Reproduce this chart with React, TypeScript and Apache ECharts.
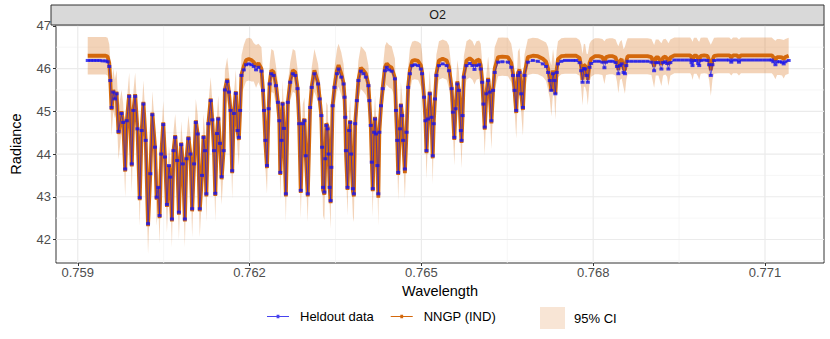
import React, { useEffect, useRef } from "react";
import * as echarts from "echarts";

const wavelength = [
  0.759174, 0.759226, 0.759278, 0.759330, 0.759382, 0.759434, 0.759486, 0.759521, 0.759550, 0.759568,
  0.759590, 0.759620, 0.759648, 0.759677, 0.759712, 0.759764, 0.759793, 0.759828, 0.759856, 0.759898,
  0.759943, 0.759972, 0.760002, 0.760042, 0.760082, 0.760116, 0.760146, 0.760186, 0.760227, 0.760267,
  0.760302, 0.760349, 0.760377, 0.760406, 0.760429, 0.760458, 0.760493, 0.760523, 0.760557, 0.760592,
  0.760615, 0.760644, 0.760672, 0.760701, 0.760736, 0.760766, 0.760806, 0.760835, 0.760870, 0.760898,
  0.760932, 0.760967, 0.760997, 0.761031, 0.761061, 0.761095, 0.761130, 0.761170, 0.761196, 0.761222,
  0.761245, 0.761280, 0.761321, 0.761349, 0.761378, 0.761401, 0.761431, 0.761453, 0.761483, 0.761512,
  0.761547, 0.761569, 0.761609, 0.761639, 0.761668, 0.761696, 0.761726, 0.761760, 0.761790, 0.761813,
  0.761835, 0.761859, 0.761899, 0.761939, 0.761986, 0.762033, 0.762073, 0.762113, 0.762155, 0.762207,
  0.762234, 0.762252, 0.762276, 0.762304, 0.762333, 0.762351, 0.762380, 0.762420, 0.762460, 0.762495,
  0.762519, 0.762536, 0.762559, 0.762576, 0.762599, 0.762634, 0.762668, 0.762710, 0.762755, 0.762797,
  0.762837, 0.762866, 0.762894, 0.762929, 0.762958, 0.762981, 0.763016, 0.763057, 0.763085, 0.763132,
  0.763196, 0.763224, 0.763253, 0.763266, 0.763283, 0.763306, 0.763323, 0.763340, 0.763363, 0.763380,
  0.763398, 0.763415, 0.763427, 0.763450, 0.763484, 0.763526, 0.763554, 0.763601, 0.763641, 0.763658,
  0.763670, 0.763682, 0.763710, 0.763740, 0.763757, 0.763774, 0.763804, 0.763821, 0.763844, 0.763873,
  0.763901, 0.763943, 0.763988, 0.764030, 0.764075, 0.764092, 0.764116, 0.764134, 0.764151, 0.764174,
  0.764191, 0.764208, 0.764231, 0.764248, 0.764266, 0.764295, 0.764325, 0.764365, 0.764394, 0.764434,
  0.764481, 0.764538, 0.764556, 0.764578, 0.764595, 0.764625, 0.764642, 0.764665, 0.764682, 0.764712,
  0.764741, 0.764769, 0.764799, 0.764839, 0.764885, 0.764943, 0.764990, 0.765012, 0.765047, 0.765071,
  0.765089, 0.765116, 0.765146, 0.765175, 0.765198, 0.765215, 0.765238, 0.765262, 0.765307, 0.765372,
  0.765441, 0.765481, 0.765528, 0.765550, 0.765575, 0.765597, 0.765627, 0.765655, 0.765689, 0.765701,
  0.765719, 0.765741, 0.765788, 0.765845, 0.765892, 0.765927, 0.765962, 0.766009, 0.766036, 0.766061,
  0.766083, 0.766106, 0.766135, 0.766165, 0.766193, 0.766222, 0.766252, 0.766280, 0.766339, 0.766413,
  0.766512, 0.766569, 0.766599, 0.766627, 0.766656, 0.766686, 0.766714, 0.766743, 0.766773, 0.766800,
  0.766859, 0.766946, 0.767033, 0.767120, 0.767177, 0.767212, 0.767241, 0.767269, 0.767299, 0.767321,
  0.767339, 0.767363, 0.767385, 0.767443, 0.767507, 0.767576, 0.767646, 0.767703, 0.767762, 0.767790,
  0.767814, 0.767837, 0.767859, 0.767884, 0.767906, 0.767936, 0.767964, 0.768028, 0.768097, 0.768161,
  0.768196, 0.768224, 0.768283, 0.768340, 0.768392, 0.768415, 0.768439, 0.768467, 0.768497, 0.768531,
  0.768554, 0.768578, 0.768601, 0.768670, 0.768740, 0.768809, 0.768878, 0.768948, 0.769017, 0.769064,
  0.769092, 0.769139, 0.769191, 0.769220, 0.769260, 0.769290, 0.769313, 0.769347, 0.769417, 0.769486,
  0.769556, 0.769625, 0.769694, 0.769717, 0.769734, 0.769759, 0.769804, 0.769833, 0.769851, 0.769877,
  0.769938, 0.769995, 0.770024, 0.770054, 0.770082, 0.770111, 0.770181, 0.770250, 0.770319, 0.770377,
  0.770411, 0.770441, 0.770510, 0.770545, 0.770580, 0.770649, 0.770719, 0.770788, 0.770858, 0.770927,
  0.770997, 0.771066, 0.771118, 0.771144, 0.771182, 0.771210, 0.771257, 0.771297, 0.771326, 0.771356, 0.771413,
];

const heldout = [
  46.19, 46.19, 46.19, 46.19, 46.19, 46.18, 46.18, 46.16, 46.05, 45.72,
  45.09, 45.45, 45.29, 45.41, 44.53, 44.95, 44.74, 43.65, 44.78, 45.35,
  43.77, 45.02, 45.35, 44.59, 42.98, 44.55, 45.17, 44.32, 42.37, 43.54,
  44.92, 44.16, 42.99, 43.22, 42.56, 44.00, 44.69, 43.93, 42.82, 43.73,
  43.46, 42.48, 44.08, 44.39, 43.85, 42.64, 44.22, 43.77, 42.48, 43.89,
  44.36, 44.00, 42.72, 43.77, 44.74, 44.47, 42.72, 43.50, 44.39, 44.08,
  43.07, 44.71, 45.25, 44.80, 44.08, 43.08, 44.48, 44.82, 44.25, 43.47,
  44.08, 45.50, 45.70, 45.45, 45.02, 43.61, 44.95, 45.42, 44.55, 44.39,
  45.02, 45.84, 45.97, 46.09, 46.11, 46.09, 46.05, 45.97, 46.03, 45.94,
  45.49, 45.02, 44.32, 43.73, 45.06, 45.64, 45.88, 45.84, 45.60, 45.21,
  44.78, 43.57, 44.32, 45.17, 44.60, 43.07, 45.21, 45.68, 45.88, 45.84,
  45.53, 44.71, 43.15, 44.71, 44.78, 43.96, 43.07, 45.09, 45.56, 45.88,
  45.64, 45.29, 44.90, 44.16, 43.22, 43.11, 43.89, 44.67, 44.59, 44.00,
  43.22, 42.91, 43.69, 45.13, 45.56, 45.88, 45.99, 45.80, 45.64, 45.33,
  44.86, 44.08, 43.22, 44.55, 44.74, 44.00, 43.19, 43.07, 44.71, 45.25,
  45.72, 45.94, 45.88, 45.80, 45.60, 45.25, 44.67, 43.81, 43.19, 44.51,
  44.82, 44.47, 43.73, 43.07, 44.51, 45.13, 45.53, 45.95, 46.03, 45.97,
  45.94, 45.76, 45.02, 44.32, 43.57, 44.59, 45.13, 44.90, 44.32, 43.65,
  44.51, 45.56, 45.88, 46.07, 46.09, 46.07, 45.99, 45.88, 45.33, 44.78,
  44.08, 44.82, 45.41, 44.86, 43.96, 44.71, 45.29, 45.84, 46.07, 46.11,
  46.07, 45.95, 45.53, 44.98, 44.39, 45.06, 45.64, 45.49, 44.55, 44.32,
  44.90, 45.80, 46.07, 46.12, 46.07, 45.98, 46.07, 46.09, 45.99, 45.68,
  45.17, 44.63, 45.41, 45.72, 45.45, 44.78, 45.49, 45.91, 46.15, 46.16,
  46.15, 46.03, 45.84, 45.49, 45.02, 45.84, 45.91, 45.41, 45.09, 45.84,
  46.15, 46.19, 46.17, 46.11, 46.05, 45.91, 45.72, 45.49, 45.88, 45.72,
  45.41, 45.91, 46.11, 46.17, 46.19, 46.19, 46.19, 46.19, 46.14, 45.95,
  45.68, 46.00, 45.99, 45.84, 45.68, 46.03, 46.12, 46.17, 46.17, 46.15,
  46.02, 46.15, 46.17, 46.17, 46.14, 46.05, 45.88, 46.07, 46.11, 45.91,
  45.88, 46.07, 46.17, 46.17, 46.17, 46.17, 46.17, 46.17, 46.15, 45.95,
  46.14, 46.14, 45.99, 46.14, 46.16, 46.12, 45.99, 46.14, 46.20, 46.20,
  46.20, 46.20, 46.20, 46.14, 46.07, 46.19, 46.19, 46.12, 46.07, 46.19,
  46.20, 46.19, 46.09, 45.84, 46.09, 46.19, 46.20, 46.20, 46.20, 46.20,
  46.15, 46.20, 46.20, 46.15, 46.20, 46.20, 46.20, 46.20, 46.20, 46.20,
  46.20, 46.20, 46.20, 46.16, 46.09, 46.16, 46.16, 46.15, 46.11, 46.16, 46.19,
];

const nngp = [
  46.30, 46.30, 46.30, 46.30, 46.30, 46.30, 46.30, 46.28, 46.13, 45.74,
  45.03, 45.50, 45.29, 45.46, 44.47, 45.00, 44.74, 43.59, 44.78, 45.40,
  43.71, 45.02, 45.40, 44.59, 42.92, 44.55, 45.22, 44.32, 42.31, 43.54,
  44.97, 44.16, 42.93, 43.22, 42.50, 44.00, 44.74, 43.93, 42.76, 43.73,
  43.46, 42.42, 44.08, 44.44, 43.85, 42.58, 44.27, 43.77, 42.42, 43.89,
  44.41, 44.00, 42.66, 43.77, 44.79, 44.47, 42.66, 43.50, 44.44, 44.08,
  43.01, 44.71, 45.30, 44.80, 44.08, 43.02, 44.48, 44.87, 44.25, 43.41,
  44.08, 45.50, 45.76, 45.45, 45.02, 43.55, 44.95, 45.47, 44.55, 44.33,
  45.02, 45.86, 46.05, 46.20, 46.22, 46.20, 46.15, 46.05, 46.13, 46.00,
  45.49, 45.02, 44.26, 43.67, 45.06, 45.66, 45.96, 45.92, 45.62, 45.21,
  44.78, 43.51, 44.32, 45.22, 44.60, 43.01, 45.21, 45.70, 45.96, 45.92,
  45.55, 44.71, 43.09, 44.71, 44.83, 43.96, 43.01, 45.09, 45.58, 45.96,
  45.66, 45.29, 44.90, 44.16, 43.16, 43.05, 43.89, 44.72, 44.64, 44.00,
  43.22, 42.85, 43.69, 45.13, 45.58, 45.96, 46.08, 45.88, 45.66, 45.33,
  44.86, 44.08, 43.16, 44.55, 44.79, 44.00, 43.13, 43.01, 44.71, 45.25,
  45.74, 46.02, 45.96, 45.88, 45.62, 45.25, 44.67, 43.81, 43.13, 44.51,
  44.87, 44.47, 43.73, 42.98, 44.51, 45.13, 45.55, 46.03, 46.12, 46.06,
  46.02, 45.78, 45.02, 44.32, 43.51, 44.59, 45.18, 44.90, 44.32, 43.55,
  44.51, 45.58, 45.97, 46.18, 46.20, 46.18, 46.08, 45.92, 45.33, 44.78,
  44.02, 44.82, 45.46, 44.86, 43.90, 44.71, 45.29, 45.88, 46.19, 46.23,
  46.19, 46.04, 45.55, 44.98, 44.33, 45.06, 45.70, 45.49, 44.55, 44.26,
  44.90, 45.84, 46.19, 46.24, 46.19, 46.08, 46.19, 46.21, 46.08, 45.72,
  45.17, 44.57, 45.41, 45.78, 45.45, 44.72, 45.49, 46.00, 46.27, 46.28,
  46.27, 46.13, 45.88, 45.49, 44.96, 45.90, 45.98, 45.41, 45.03, 45.88,
  46.27, 46.30, 46.29, 46.23, 46.16, 46.00, 45.76, 45.48, 45.96, 45.76,
  45.40, 45.98, 46.22, 46.29, 46.30, 46.30, 46.30, 46.30, 46.25, 46.05,
  45.74, 46.08, 46.07, 45.90, 45.74, 46.13, 46.23, 46.29, 46.29, 46.27,
  46.14, 46.27, 46.29, 46.29, 46.26, 46.14, 45.97, 46.18, 46.22, 46.00,
  45.96, 46.18, 46.29, 46.29, 46.29, 46.29, 46.29, 46.29, 46.27, 46.05,
  46.26, 46.26, 46.09, 46.26, 46.28, 46.23, 46.09, 46.26, 46.31, 46.31,
  46.31, 46.31, 46.31, 46.26, 46.18, 46.30, 46.30, 46.23, 46.18, 46.30,
  46.31, 46.30, 46.19, 45.96, 46.19, 46.30, 46.31, 46.31, 46.31, 46.31,
  46.26, 46.31, 46.31, 46.26, 46.31, 46.31, 46.31, 46.31, 46.31, 46.31,
  46.31, 46.31, 46.31, 46.27, 46.20, 46.27, 46.27, 46.26, 46.22, 46.27, 46.30,
];

const ciHalf = [
  0.44, 0.44, 0.44, 0.44, 0.44, 0.44, 0.44, 0.44, 0.44, 0.45,
  0.6, 0.5, 0.45, 0.5, 0.6, 0.5, 0.45, 0.6, 0.45, 0.5,
  0.6, 0.45, 0.5, 0.45, 0.6, 0.45, 0.5, 0.45, 0.65, 0.45,
  0.5, 0.45, 0.6, 0.45, 0.6, 0.45, 0.5, 0.45, 0.6, 0.45,
  0.45, 0.6, 0.45, 0.5, 0.45, 0.6, 0.5, 0.45, 0.6, 0.45,
  0.5, 0.45, 0.6, 0.45, 0.5, 0.45, 0.6, 0.45, 0.5, 0.45,
  0.6, 0.45, 0.5, 0.45, 0.45, 0.6, 0.45, 0.5, 0.45, 0.6,
  0.45, 0.45, 0.5, 0.45, 0.45, 0.6, 0.45, 0.5, 0.45, 0.6,
  0.45, 0.45, 0.5, 0.5, 0.5, 0.5, 0.45, 0.5, 0.45, 0.5,
  0.45, 0.45, 0.6, 0.6, 0.45, 0.45, 0.5, 0.5, 0.45, 0.45,
  0.45, 0.6, 0.45, 0.5, 0.45, 0.6, 0.45, 0.45, 0.5, 0.5,
  0.45, 0.45, 0.6, 0.45, 0.5, 0.45, 0.6, 0.45, 0.45, 0.5,
  0.45, 0.45, 0.45, 0.45, 0.6, 0.6, 0.45, 0.5, 0.5, 0.45,
  0.45, 0.6, 0.45, 0.45, 0.45, 0.5, 0.5, 0.5, 0.45, 0.45,
  0.45, 0.45, 0.6, 0.45, 0.5, 0.45, 0.6, 0.6, 0.45, 0.45,
  0.45, 0.5, 0.5, 0.5, 0.45, 0.45, 0.45, 0.45, 0.6, 0.45,
  0.5, 0.45, 0.45, 0.65, 0.45, 0.45, 0.45, 0.5, 0.5, 0.5,
  0.5, 0.45, 0.45, 0.45, 0.6, 0.45, 0.5, 0.45, 0.45, 0.6,
  0.45, 0.45, 0.5, 0.45, 0.45, 0.45, 0.5, 0.45, 0.45, 0.45,
  0.6, 0.45, 0.5, 0.45, 0.6, 0.45, 0.45, 0.45, 0.45, 0.45,
  0.45, 0.5, 0.45, 0.45, 0.6, 0.45, 0.5, 0.45, 0.45, 0.6,
  0.45, 0.45, 0.45, 0.45, 0.45, 0.45, 0.45, 0.45, 0.5, 0.45,
  0.45, 0.6, 0.45, 0.5, 0.45, 0.6, 0.45, 0.5, 0.45, 0.45,
  0.45, 0.45, 0.45, 0.45, 0.6, 0.5, 0.5, 0.45, 0.6, 0.45,
  0.42, 0.42, 0.42, 0.42, 0.45, 0.5, 0.45, 0.6, 0.5, 0.45,
  0.6, 0.45, 0.42, 0.42, 0.42, 0.42, 0.42, 0.42, 0.42, 0.5,
  0.6, 0.5, 0.5, 0.45, 0.6, 0.45, 0.42, 0.42, 0.42, 0.42,
  0.5, 0.42, 0.42, 0.42, 0.42, 0.45, 0.55, 0.45, 0.45, 0.45,
  0.55, 0.45, 0.42, 0.42, 0.42, 0.42, 0.42, 0.42, 0.42, 0.5,
  0.42, 0.42, 0.5, 0.42, 0.42, 0.42, 0.5, 0.42, 0.42, 0.42,
  0.42, 0.42, 0.42, 0.42, 0.45, 0.42, 0.42, 0.42, 0.45, 0.42,
  0.42, 0.42, 0.45, 0.6, 0.45, 0.42, 0.42, 0.42, 0.42, 0.42,
  0.42, 0.42, 0.42, 0.42, 0.42, 0.42, 0.42, 0.42, 0.42, 0.42,
  0.42, 0.42, 0.42, 0.42, 0.45, 0.42, 0.42, 0.42, 0.45, 0.42, 0.42,
];

const xTicks = [0.759, 0.762, 0.765, 0.768, 0.771];
const xMinor = [0.7605, 0.7635, 0.7665, 0.7695];
const yTicks = [42, 43, 44, 45, 46, 47];
const yMinor = [41.5, 42.5, 43.5, 44.5, 45.5, 46.5];

const X_MIN = 0.75862;
const X_MAX = 0.77203;
const Y_MIN = 41.45;
const Y_MAX = 47.02;

const FONT = "'Liberation Sans', Arial, Helvetica, sans-serif";
const LINE_DOT_ICON = "path://M0,2.4 H22 V3.6 H0 Z M9.6,1.2 H12.4 V4.8 H9.6 Z";

export default function App() {
  const ref = useRef<HTMLDivElement>(null);

  useEffect(() => {
    document.body.style.margin = "0";
    document.body.style.overflow = "hidden";
    const chart = echarts.init(ref.current!, null, { renderer: "svg" });
    const n = Math.min(wavelength.length, heldout.length, nngp.length, ciHalf.length);
    const idx = Array.from({ length: n }, (_, i) => i);

    const ribbonColor = "rgba(215,110,20,0.3)";
    const orange = "#D4680C";
    const blue = "rgba(25,20,235,0.8)";

    const axisLabelStyle = { color: "#4D4D4D", fontSize: 13, fontFamily: FONT };

    const gridRender = (params: any, api: any) => {
      if (params.dataIndex !== 0) return null;
      const children: any[] = [];
      const vLine = (v: number, color: string, w: number) => {
        const a = api.coord([v, Y_MIN]);
        const b = api.coord([v, Y_MAX]);
        children.push({
          type: "line",
          shape: { x1: a[0], y1: a[1], x2: b[0], y2: b[1] },
          style: { stroke: color, lineWidth: w },
        });
      };
      const hLine = (v: number, color: string, w: number) => {
        const a = api.coord([X_MIN, v]);
        const b = api.coord([X_MAX, v]);
        children.push({
          type: "line",
          shape: { x1: a[0], y1: a[1], x2: b[0], y2: b[1] },
          style: { stroke: color, lineWidth: w },
        });
      };
      xMinor.forEach((v) => vLine(v, "#F2F2F2", 0.7));
      yMinor.forEach((v) => hLine(v, "#F2F2F2", 0.7));
      xTicks.forEach((v) => vLine(v, "#EBEBEB", 1.2));
      yTicks.forEach((v) => hLine(v, "#EBEBEB", 1.2));
      return { type: "group", children };
    };

    chart.setOption({
      animation: false,
      grid: {
        left: 51,
        right: 6,
        top: 25,
        bottom: 76,
        show: true,
        borderColor: "#333333",
        borderWidth: 1,
      },
      xAxis: {
        type: "value",
        min: X_MIN,
        max: X_MAX,
        axisLine: { show: false },
        splitLine: { show: false },
        axisTick: { show: true, customValues: xTicks, length: 3, lineStyle: { color: "#333333" } },
        axisLabel: {
          ...axisLabelStyle,
          customValues: xTicks,
          margin: 3,
          formatter: (v: number) => v.toFixed(3),
        },
        name: "Wavelength",
        nameLocation: "middle",
        nameGap: 13,
        nameTextStyle: { color: "#000000", fontSize: 14.5, fontFamily: FONT },
      },
      yAxis: {
        type: "value",
        min: Y_MIN,
        max: Y_MAX,
        axisLine: { show: false },
        splitLine: { show: false },
        axisTick: { show: true, customValues: yTicks, length: 3, lineStyle: { color: "#333333" } },
        axisLabel: {
          ...axisLabelStyle,
          customValues: yTicks,
          margin: 5,
          formatter: (v: number) => String(Math.round(v)),
        },
        name: "Radiance",
        nameLocation: "middle",
        nameGap: 33,
        nameRotate: 90,
        nameTextStyle: { color: "#000000", fontSize: 14.5, fontFamily: FONT },
      },
      legend: [
        {
          data: [
            { name: "Heldout data", icon: LINE_DOT_ICON },
            { name: "NNGP (IND)", icon: LINE_DOT_ICON },
          ],
          left: 262,
          top: 305,
          itemWidth: 22,
          itemHeight: 6,
          itemGap: 17,
          selectedMode: false,
          textStyle: { color: "#000000", fontSize: 13, fontFamily: FONT, padding: [0, 0, 0, 6] },
        },
        {
          data: [{ name: "95% CI", icon: "rect", itemStyle: { color: "rgba(215,110,20,0.18)" } }],
          left: 535,
          top: 302,
          itemWidth: 25,
          itemHeight: 22,
          selectedMode: false,
          textStyle: { color: "#000000", fontSize: 13, fontFamily: FONT, padding: [0, 0, 0, 4] },
        },
      ],
      graphic: [
        {
          type: "rect",
          shape: { x: 51, y: 5, width: 773, height: 20 },
          style: { fill: "#D9D9D9", stroke: "#333333", lineWidth: 1 },
          z: 10,
        },
        {
          type: "text",
          x: 437.5,
          y: 15,
          style: {
            text: "O2",
            fill: "#1A1A1A",
            font: `12.5px ${FONT}`,
            textAlign: "center",
            textVerticalAlign: "middle",
            align: "center",
            verticalAlign: "middle",
          },
          z: 11,
        },
      ],
      series: [
        {
          type: "custom",
          name: "gridlines",
          silent: true,
          z: 0,
          data: [[X_MIN, Y_MIN]],
          renderItem: gridRender,
        },
        {
          type: "custom",
          name: "95% CI",
          silent: true,
          z: 1,
          itemStyle: { color: ribbonColor },
          data: [[wavelength[0], nngp[0]]],
          renderItem: (params: any, api: any) => {
            if (params.dataIndex !== 0) return null;
            const pts: number[][] = [];
            for (const i of idx) pts.push(api.coord([wavelength[i], nngp[i] + ciHalf[i]]));
            for (let k = n - 1; k >= 0; k--) pts.push(api.coord([wavelength[k], nngp[k] - ciHalf[k]]));
            return {
              type: "polygon",
              shape: { points: pts },
              style: { fill: ribbonColor },
            };
          },
        },
        {
          type: "line",
          name: "NNGP (IND)",
          data: idx.map((i) => [wavelength[i], nngp[i]]),
          symbol: "circle",
          symbolSize: 3,
          showSymbol: false,
          lineStyle: { width: 3.8, color: orange },
          itemStyle: { color: orange },
          silent: true,
          z: 3,
          emphasis: { disabled: true },
        },
        {
          type: "line",
          name: "Heldout data",
          data: idx.map((i) => [wavelength[i], heldout[i]]),
          symbol: "rect",
          symbolSize: [4, 3],
          showSymbol: true,
          showAllSymbol: true,
          lineStyle: { width: 0.8, color: blue },
          itemStyle: { color: blue },
          silent: true,
          z: 4,
          emphasis: { disabled: true },
        },
      ],
    });
    return () => chart.dispose();
  }, []);

  return <div ref={ref} style={{ width: 830, height: 339 }} />;
}
